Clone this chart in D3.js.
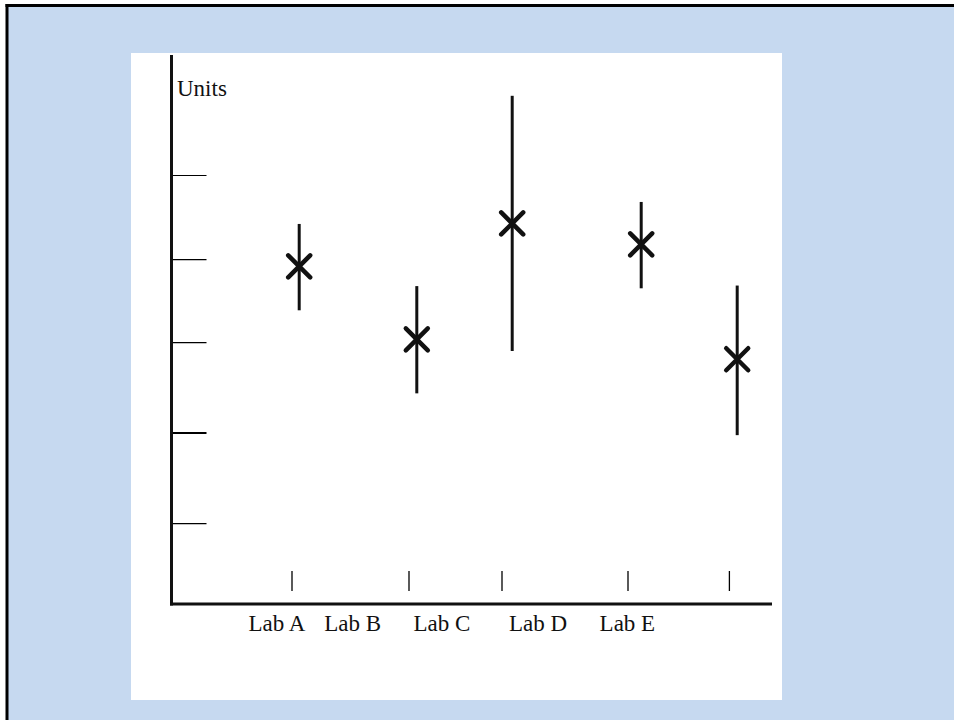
<!DOCTYPE html>
<html>
<head>
<meta charset="utf-8">
<script src="https://cdn.jsdelivr.net/npm/d3@7"></script>
<style>
  html, body { margin: 0; padding: 0; background: #ffffff; overflow: hidden; }
  svg { display: block; }
  text { font-family: "Liberation Serif", "Times New Roman", serif; fill: #111; }
</style>
</head>
<body>
<svg id="chart" width="954" height="720"></svg>
<script>
// ---- data ----
const labLabels   = ["Lab A", "Lab B", "Lab C", "Lab D", "Lab E"];
const labLabelPos = [1.75, 3.01, 4.50, 6.10, 7.59];
const xTickPos    = [2.00, 3.95, 5.50, 7.60, 9.29];
const pointX      = [2.12, 4.08, 5.67, 7.82, 9.42];
const pointY      = [61.4, 48.1, 69.2, 65.4, 44.5];
const errLow      = [53.4, 38.3, 46.0, 57.4, 30.7];
const errHigh     = [69.1, 57.8, 92.4, 73.1, 57.9];
const yTickVals   = [14.7, 31.2, 47.6, 62.7, 78.0];
const yAxisTitle  = "Units";

// ---- layout ----
const svg = d3.select("#chart");
const W = 954, H = 720;

svg.append("rect").attr("x", 0).attr("y", 0).attr("width", W).attr("height", H).attr("fill", "#ffffff");
svg.append("rect").attr("x", 7).attr("y", 5.5).attr("width", W - 7).attr("height", H - 5.5).attr("fill", "#c6d9f0");
// frame: only top and left edges are visible
svg.append("line").attr("x1", 5.5).attr("x2", W).attr("y1", 5.5).attr("y2", 5.5).attr("stroke", "#000").attr("stroke-width", 3);
svg.append("line").attr("x1", 7).attr("x2", 7).attr("y1", 4).attr("y2", H).attr("stroke", "#000").attr("stroke-width", 3);
svg.append("rect").attr("x", 131).attr("y", 53).attr("width", 651).attr("height", 647).attr("fill", "#ffffff");

const x = d3.scaleLinear().domain([0, 10]).range([172, 772]);
const y = d3.scaleLinear().domain([0, 100]).range([604, 54]);

const g = svg.append("g");

// y ticks (pointing inward, no labels)
const yAxis = d3.axisRight(y).tickValues(yTickVals).tickSize(36).tickFormat("");
const ya = g.append("g").attr("transform", `translate(${x(0) - 1.5},0)`).call(yAxis);
ya.select(".domain").remove();
ya.selectAll(".tick line").attr("stroke", "#000").attr("stroke-width", (d, i) => i === 1 ? 2 : 1.2);

// axes lines
g.append("line").attr("x1", x(0) - 0.5).attr("x2", x(0) - 0.5).attr("y1", y(100) + 1).attr("y2", y(0) + 1.5)
  .attr("stroke", "#111").attr("stroke-width", 3);
g.append("line").attr("x1", x(0) - 2).attr("x2", x(10)).attr("y1", y(0)).attr("y2", y(0))
  .attr("stroke", "#111").attr("stroke-width", 3);

// x ticks floating above axis
g.selectAll(".xt").data(xTickPos).enter().append("line")
  .attr("x1", d => x(d)).attr("x2", d => x(d))
  .attr("y1", y(0) - 33).attr("y2", y(0) - 13)
  .attr("stroke", "#000").attr("stroke-width", 1.3);

// x labels
g.selectAll(".xl").data(labLabels).enter().append("text")
  .attr("x", (d, i) => x(labLabelPos[i]))
  .attr("y", y(0) + 27)
  .attr("text-anchor", "middle")
  .attr("font-size", 23)
  .text(d => d);

// y title
g.append("text").attr("x", x(0) + 5).attr("y", 96).attr("font-size", 23).text(yAxisTitle);

// error bars
g.selectAll(".eb").data(pointX).enter().append("line")
  .attr("x1", d => x(d)).attr("x2", d => x(d))
  .attr("y1", (d, i) => y(errHigh[i])).attr("y2", (d, i) => y(errLow[i]))
  .attr("stroke", "#111").attr("stroke-width", 3);

// X markers
const s = 11;
g.selectAll(".pt").data(pointX).enter().append("path")
  .attr("d", (d, i) => {
    const cx = x(d), cy = y(pointY[i]);
    return `M${cx - s},${cy - s}L${cx + s},${cy + s}M${cx - s},${cy + s}L${cx + s},${cy - s}`;
  })
  .attr("stroke", "#111").attr("stroke-width", 4.5).attr("stroke-linecap", "round").attr("fill", "none");
</script>
</body>
</html>
